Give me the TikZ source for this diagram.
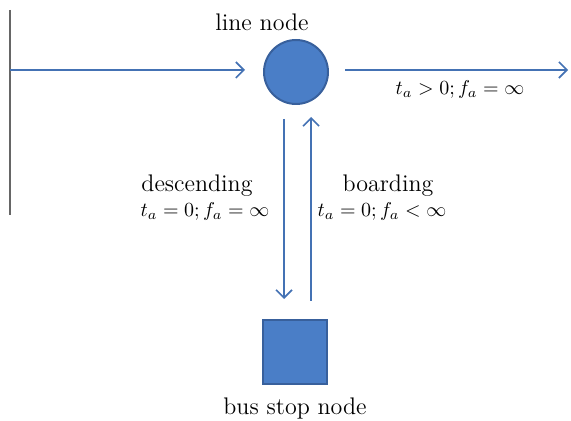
\documentclass[tikz,border=0pt]{standalone}
\usetikzlibrary{arrows.meta}

\definecolor{nodeblue}{RGB}{74,126,199}
\definecolor{nodeedge}{RGB}{56,96,156}
\definecolor{linkblue}{RGB}{68,114,180}

\begin{document}
\begin{tikzpicture}[
    x=0.5pt, y=-0.5pt,
    stopnode/.style={rectangle, draw=nodeedge, fill=nodeblue, line width=1pt, minimum size=32pt, inner sep=0pt},
    linenode/.style={circle, draw=nodeedge, fill=nodeblue, line width=1pt, minimum size=32pt, inner sep=0pt},
    link/.style={draw=linkblue, line width=0.8pt, -{Straight Barb[length=4pt,width=8pt]}},
    label/.style={font=\large},
    cost/.style={font=\normalsize}
]
\useasboundingbox (0,0) rectangle (571,421);

% nodes
\node[linenode] (line) at (296,72) {};
\node[label] at (262,22) {line node};

\node[stopnode] (stop) at (295,352) {};
\node[label] at (295,408) {bus stop node};

% left border and ends of the line
\coordinate (top) at (10,10);
\coordinate (bottom) at (10,215);
\coordinate (in) at (10,70);
\coordinate (out) at (568,70);
\draw[gray!80!black, line width=0.8pt] (top) -- (bottom);

% line links
\draw[link, shorten >=9pt] (in) -- (in -| line.west);
\draw[link, shorten <=8pt] (out -| line.east) -- (out);
\node[cost] at (460,90) {$t_a > 0; f_a = \infty$};

% descending and boarding
\draw[link, shorten <=7pt, shorten >=10pt] ([xshift=-6pt]line.south) -- ([xshift=-6pt]line.south |- stop.north);
\draw[link, shorten <=9pt, shorten >=6pt] ([xshift=7.5pt]line.south |- stop.north) -- ([xshift=7.5pt]line.south);

\node[label] at (197,186) {descending};
\node[cost] at (205,212) {$t_a = 0; f_a = \infty$};
\node[label] at (388,186) {boarding};
\node[cost] at (382,212) {$t_a = 0; f_a < \infty$};

\end{tikzpicture}
\end{document}
